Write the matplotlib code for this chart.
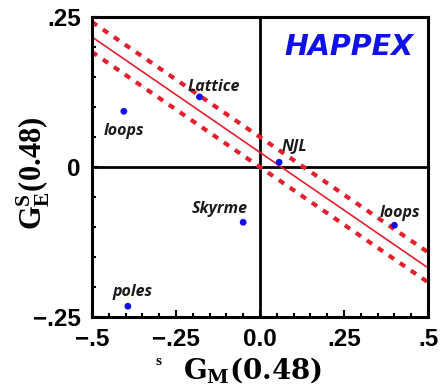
import numpy as np
import matplotlib.pyplot as plt
from matplotlib.ticker import MultipleLocator

plt.rcParams['mathtext.fontset'] = 'custom'
plt.rcParams['mathtext.rm'] = 'Liberation Serif:bold'
plt.rcParams['mathtext.bf'] = 'Liberation Serif:bold'
plt.rcParams['mathtext.it'] = 'Liberation Serif:bold'

# model predictions: G_M^s(0.48) vs G_E^s(0.48)
models = ['Lattice', 'loops', 'NJL', 'Skyrme', 'loops', 'poles']
gm = [-0.18, -0.405, 0.057, -0.05, 0.40, -0.393]
ge = [0.117, 0.093, 0.008, -0.092, -0.097, -0.232]

# HAPPEX band (central value and 1-sigma edges) at the plot edges
band_x = [-0.5, 0.5]
band_mid = [0.217, -0.168]
band_hi = [0.242, -0.142]
band_lo = [0.192, -0.192]

xticks = [-0.5, -0.25, 0.0, 0.25, 0.5]
xticklabels = ['\u2212.5', '\u2212.25', '0.0', '.25', '.5']
yticks = [-0.25, 0.0, 0.25]
yticklabels = ['\u2212.25', '0', '.25']

red = '#e3202c'
blue = '#1010e8'

fig = plt.figure(figsize=(4.44, 3.89), dpi=100)
ax = fig.add_axes([0.207, 0.185, 0.757, 0.771])

ax.axhline(0, color='black', lw=2, zorder=1)
ax.axvline(0, color='black', lw=2, zorder=1)

ax.plot(band_x, band_mid, color=red, lw=1.2, zorder=2)
for yy in (band_hi, band_lo):
    ax.plot(band_x, yy, color=red, lw=3, dashes=(1.5, 1.7), zorder=2)

ax.scatter(gm, ge, s=24, color=blue, zorder=3, edgecolors='none')

# label offsets (data units) from each model point
offsets = [(-0.034, 0.009), (-0.059, -0.040), (0.008, 0.020),
           (-0.152, 0.015), (-0.043, 0.014), (-0.047, 0.017)]
lab_font = dict(family='Open Sans', weight='bold', style='italic',
                size=11.5, color='#1a1a1a')
for name, x, y, (dx, dy) in zip(models, gm, ge, offsets):
    ax.text(x + dx, y + dy, name, ha='left', va='baseline', **lab_font)

ax.text(0.457, 0.2, 'HAPPEX', ha='right', va='center', color=blue,
        family='DejaVu Sans', weight='bold', style='oblique', size=20.5)

ax.set_xlim(-0.5, 0.5)
ax.set_ylim(-0.25, 0.25)
ax.set_xticks(xticks)
ax.set_xticklabels(xticklabels)
ax.set_yticks(yticks)
ax.set_yticklabels(yticklabels)
ax.xaxis.set_minor_locator(MultipleLocator(0.05))
ax.yaxis.set_minor_locator(MultipleLocator(0.05))
ax.tick_params(which='both', direction='in', top=False, right=False, width=1.5)
ax.tick_params(which='major', length=5, pad=8)
ax.tick_params(which='minor', length=3)
for lab in ax.get_xticklabels() + ax.get_yticklabels():
    lab.set_family('Liberation Sans')
    lab.set_weight('bold')
    lab.set_size(17.5)
for sp in ax.spines.values():
    sp.set_linewidth(2.2)

fig.text(0.075, 0.555, r'$\mathrm{G_E^S(0.48)}$', rotation=90, ha='center',
         va='center', size=22)
fig.text(0.57, 0.05, r'$\mathbf{G}_\mathbf{M}\mathbf{(0.48)}$', ha='center',
         va='center', size=20, math_fontfamily='dejavuserif')
fig.text(0.356, 0.07, 's', ha='center', va='center', size=11,
         family='Liberation Serif', weight='bold')

fig.savefig('out.png', dpi=100)
